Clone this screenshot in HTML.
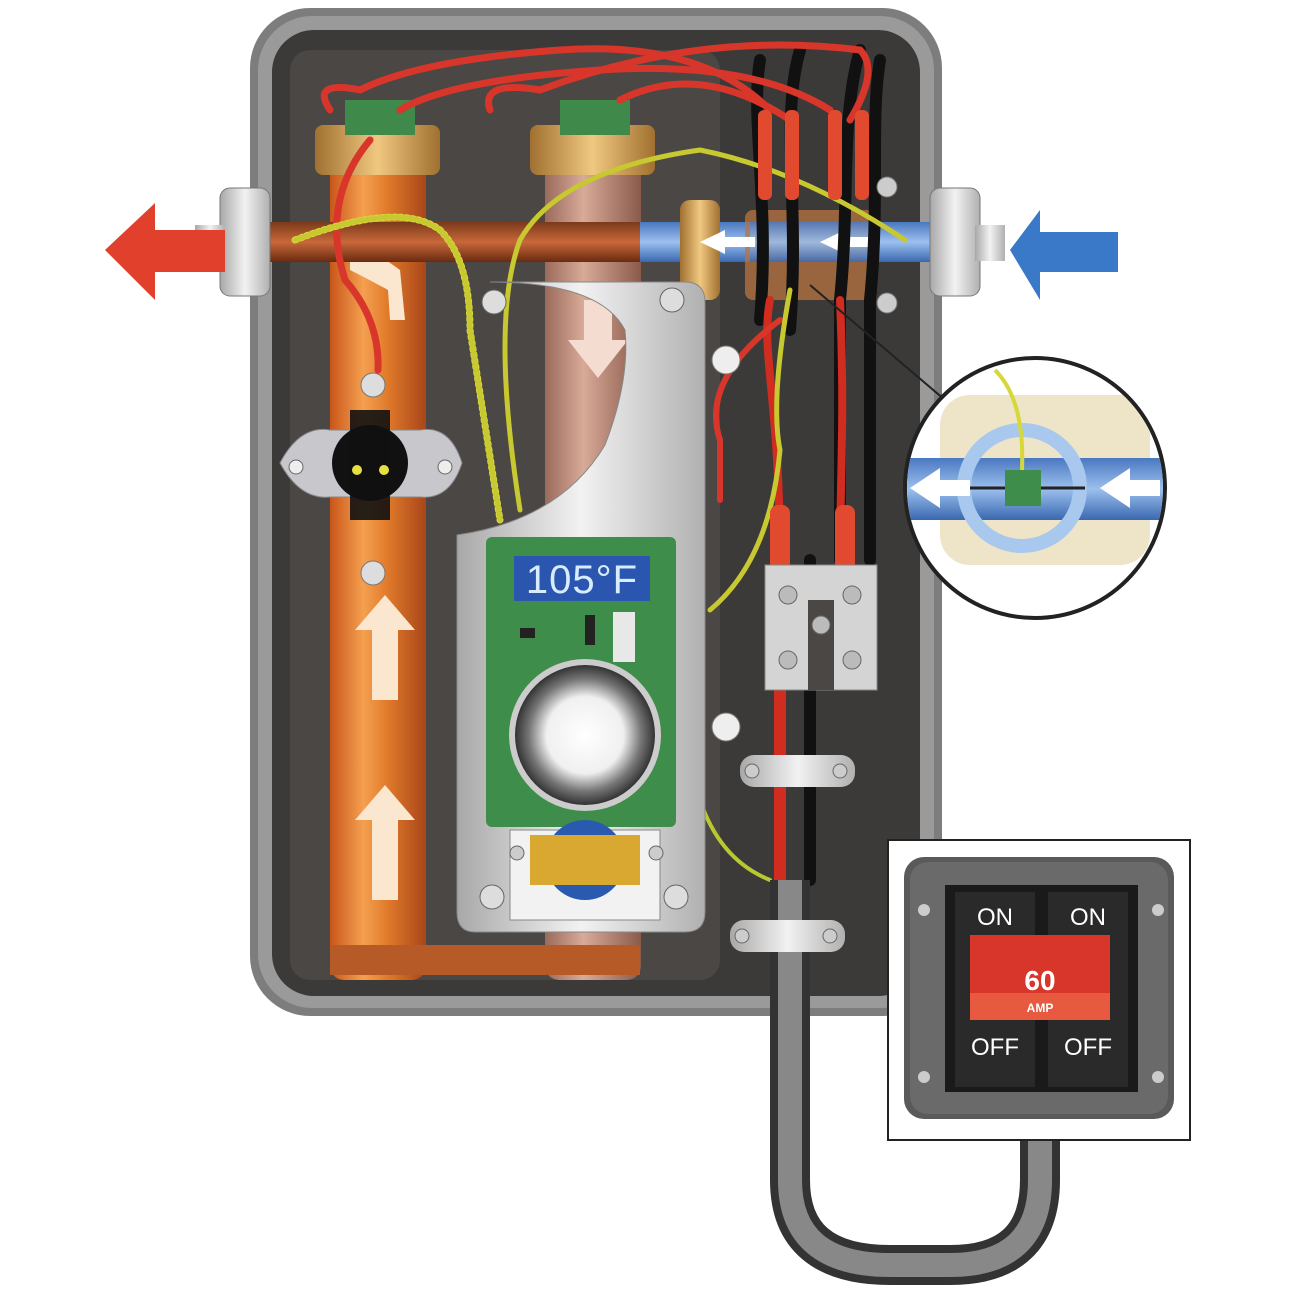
<!DOCTYPE html>
<html><head><meta charset="utf-8"><style>
html,body{margin:0;padding:0;background:#fff;width:1300px;height:1300px;overflow:hidden}
svg{display:block}
text{font-family:"Liberation Sans",sans-serif}
</style></head><body>
<svg width="1300" height="1300" viewBox="0 0 1300 1300" xmlns="http://www.w3.org/2000/svg">
<defs>
<linearGradient id="cop" x1="0" x2="1"><stop offset="0" stop-color="#c9561a"/><stop offset=".35" stop-color="#f4a050"/><stop offset=".6" stop-color="#e07a2a"/><stop offset="1" stop-color="#a8461a"/></linearGradient>
<linearGradient id="cop2" x1="0" x2="1"><stop offset="0" stop-color="#9a6a5a"/><stop offset=".4" stop-color="#d8aa98"/><stop offset="1" stop-color="#8a5a4a"/></linearGradient>
<linearGradient id="pipeh" x1="0" y1="0" x2="0" y2="1"><stop offset="0" stop-color="#7a3a1a"/><stop offset=".5" stop-color="#c8683a"/><stop offset="1" stop-color="#6a2a10"/></linearGradient>
<linearGradient id="blu" x1="0" y1="0" x2="0" y2="1"><stop offset="0" stop-color="#4a78c0"/><stop offset=".5" stop-color="#9cc0ee"/><stop offset="1" stop-color="#3a68b0"/></linearGradient>
<linearGradient id="met" x1="0" x2="1"><stop offset="0" stop-color="#a8a8a8"/><stop offset=".5" stop-color="#f2f2f2"/><stop offset="1" stop-color="#b0b0b0"/></linearGradient>
<radialGradient id="knob"><stop offset="0" stop-color="#fff"/><stop offset=".55" stop-color="#f0f0f0"/><stop offset=".8" stop-color="#777"/><stop offset="1" stop-color="#333"/></radialGradient>
<linearGradient id="brass" x1="0" x2="1"><stop offset="0" stop-color="#a07030"/><stop offset=".5" stop-color="#f0c880"/><stop offset="1" stop-color="#a07030"/></linearGradient>
</defs>

<!-- case -->
<rect x="250" y="8" width="692" height="1008" rx="60" fill="#7d7d7d"/>
<rect x="258" y="16" width="676" height="992" rx="54" fill="#9a9a9a"/>
<rect x="272" y="30" width="648" height="966" rx="42" fill="#3c3a39"/>
<rect x="290" y="50" width="430" height="930" rx="20" fill="#4a4745"/>

<!-- copper tubes -->
<rect x="330" y="140" width="96" height="840" rx="14" fill="url(#cop)"/>
<rect x="545" y="140" width="96" height="840" rx="14" fill="url(#cop2)"/>
<rect x="315" y="125" width="125" height="50" rx="8" fill="url(#brass)"/>
<rect x="530" y="125" width="125" height="50" rx="8" fill="url(#brass)"/>
<rect x="345" y="100" width="70" height="35" fill="#3f8a4a"/>
<rect x="560" y="100" width="70" height="35" fill="#3f8a4a"/>
<rect x="330" y="945" width="310" height="30" fill="#b65a28"/>
<!-- arrows in tubes -->
<polygon points="385,595 415,630 398,630 398,700 372,700 372,630 355,630" fill="#fbe6d0"/>
<polygon points="385,785 415,820 398,820 398,900 372,900 372,820 355,820" fill="#fbe6d0"/>
<polygon points="598,378 628,340 612,340 612,300 584,300 584,340 568,340" fill="#f4dcd0"/>
<path d="M350 255 Q360 240 400 270 L405 320 L390 320 L388 290 Q370 280 350 270Z" fill="#fbe6d0"/>

<!-- horizontal pipe -->
<rect x="265" y="222" width="380" height="40" fill="url(#pipeh)"/>
<rect x="640" y="222" width="295" height="40" fill="url(#blu)"/>
<rect x="680" y="200" width="40" height="100" rx="10" fill="url(#brass)"/>
<rect x="745" y="210" width="130" height="90" rx="8" fill="#b87440" opacity=".75"/>
<rect x="750" y="222" width="120" height="40" fill="url(#blu)" opacity=".85"/>
<polygon points="700,242 725,230 725,237 755,237 755,247 725,247 725,254" fill="#fff"/>
<polygon points="820,242 845,230 845,237 875,237 875,247 845,247 845,254" fill="#fff"/>
<!-- fittings -->
<rect x="220" y="188" width="50" height="108" rx="10" fill="url(#met)" stroke="#777"/>
<rect x="195" y="225" width="30" height="36" fill="url(#met)"/>
<rect x="930" y="188" width="50" height="108" rx="10" fill="url(#met)" stroke="#777"/>
<rect x="975" y="225" width="30" height="36" fill="url(#met)"/>
<!-- big arrows -->
<polygon points="105,250 155,203 155,230 225,230 225,272 155,272 155,300" fill="#e0402c"/>
<polygon points="1010,250 1040,210 1040,232 1118,232 1118,272 1040,272 1040,300" fill="#3a78c8"/>

<!-- thermostat -->
<path d="M280 463 Q300 425 330 430 L420 430 Q450 425 462 463 Q450 500 420 497 L330 497 Q300 500 280 463Z" fill="#c8c8cc" stroke="#888"/>
<circle cx="370" cy="463" r="38" fill="#111"/>
<rect x="350" y="410" width="40" height="110" fill="#111" opacity=".9"/>
<circle cx="357" cy="470" r="5" fill="#e6e040"/><circle cx="384" cy="470" r="5" fill="#e6e040"/>
<circle cx="296" cy="467" r="7" fill="#eee" stroke="#666"/><circle cx="445" cy="467" r="7" fill="#eee" stroke="#666"/>
<circle cx="373" cy="385" r="12" fill="#ddd" stroke="#777"/>
<circle cx="373" cy="573" r="12" fill="#ddd" stroke="#777"/>

<!-- wires -->
<g fill="none" stroke-linecap="round">
<path d="M760 320 C770 200 750 120 760 60" stroke="#111" stroke-width="12"/>
<path d="M790 330 C800 200 780 120 800 50" stroke="#111" stroke-width="12"/>
<path d="M840 560 L840 300 C850 200 840 120 860 50" stroke="#111" stroke-width="12"/>
<path d="M870 560 L870 300 C880 200 870 120 880 60" stroke="#111" stroke-width="12"/>
<path d="M810 880 L810 560" stroke="#111" stroke-width="12"/>
<path d="M780 880 L780 560" stroke="#d02c20" stroke-width="12"/>
<path d="M780 560 C780 400 760 350 770 300" stroke="#d02c20" stroke-width="8"/>
<path d="M840 560 C840 480 845 420 840 300" stroke="#d02c20" stroke-width="8"/>
<path d="M330 110 Q310 80 360 90 Q420 60 560 50 Q700 40 770 110" stroke="#d8362a" stroke-width="7"/>
<path d="M400 110 Q450 80 600 70 Q750 60 830 110" stroke="#d8362a" stroke-width="7"/>
<path d="M490 110 Q480 80 540 90 Q700 30 860 50 Q880 70 850 120" stroke="#d8362a" stroke-width="7"/>
<path d="M620 100 Q700 60 790 120" stroke="#d8362a" stroke-width="7"/>
<path d="M370 140 Q320 200 345 280 Q380 320 378 370" stroke="#d8362a" stroke-width="7"/>
<path d="M780 320 Q700 380 720 440 L720 500" stroke="#d8362a" stroke-width="6"/>
<path d="M295 240 Q400 200 440 230 Q470 260 470 330 L500 520" stroke="#d6d83a" stroke-width="7" stroke-dasharray="2 4"/>
<path d="M295 240 Q400 200 440 230 Q470 260 470 330 L500 520" stroke="#c8c830" stroke-width="5"/>
<path d="M905 240 Q800 170 700 150 Q560 170 520 240 Q490 320 520 510" stroke="#c8c830" stroke-width="5"/>
<path d="M790 290 Q770 400 780 450 Q770 560 710 610" stroke="#c8c830" stroke-width="5"/>
<path d="M700 800 Q720 860 770 880" stroke="#b8c830" stroke-width="4"/>
</g>
<rect x="758" y="110" width="14" height="90" rx="6" fill="#e24a30"/>
<rect x="785" y="110" width="14" height="90" rx="6" fill="#e24a30"/>
<rect x="828" y="110" width="14" height="90" rx="6" fill="#e24a30"/>
<rect x="855" y="110" width="14" height="90" rx="6" fill="#e24a30"/>
<rect x="770" y="505" width="20" height="70" rx="8" fill="#e24a30"/>
<rect x="835" y="505" width="20" height="70" rx="8" fill="#e24a30"/>

<!-- terminal block -->
<rect x="765" y="565" width="112" height="125" fill="#d4d4d4" stroke="#888"/>
<rect x="808" y="600" width="26" height="90" fill="#4a4745"/>
<circle cx="788" cy="595" r="9" fill="#bbb" stroke="#666"/><circle cx="852" cy="595" r="9" fill="#bbb" stroke="#666"/>
<circle cx="788" cy="660" r="9" fill="#bbb" stroke="#666"/><circle cx="852" cy="660" r="9" fill="#bbb" stroke="#666"/>
<circle cx="821" cy="625" r="9" fill="#bbb" stroke="#666"/>
<rect x="740" y="755" width="115" height="32" rx="14" fill="url(#met)"/>
<circle cx="726" cy="360" r="14" fill="#eee" stroke="#777"/>
<circle cx="726" cy="727" r="14" fill="#eee" stroke="#777"/>
<circle cx="887" cy="187" r="10" fill="#ccc" stroke="#777"/><circle cx="887" cy="303" r="10" fill="#ccc" stroke="#777"/>
<line x1="810" y1="285" x2="945" y2="400" stroke="#222" stroke-width="2"/>

<!-- silver plate -->
<path d="M490 282 L685 282 Q705 282 705 302 L705 912 Q705 932 685 932 L475 932 Q457 932 457 912 L457 535 Q560 520 605 445 Q630 380 625 330 Q600 282 490 282Z" fill="url(#met)" stroke="#888"/>
<circle cx="494" cy="302" r="12" fill="#ddd" stroke="#666"/>
<circle cx="672" cy="300" r="12" fill="#ddd" stroke="#666"/>
<circle cx="492" cy="897" r="12" fill="#ddd" stroke="#666"/>
<circle cx="676" cy="897" r="12" fill="#ddd" stroke="#666"/>
<rect x="486" y="537" width="190" height="290" rx="6" fill="#3f8d4a"/>
<rect x="514" y="556" width="136" height="45" fill="#2a56b0"/>
<text x="582" y="593" font-size="40" fill="#d8ecff" text-anchor="middle" letter-spacing="1">105°F</text>
<rect x="613" y="612" width="22" height="50" fill="#e8e8e8"/>
<rect x="585" y="615" width="10" height="30" fill="#222"/>
<rect x="520" y="628" width="15" height="10" fill="#222"/>
<circle cx="585" cy="735" r="76" fill="#ccc"/>
<circle cx="585" cy="735" r="70" fill="url(#knob)"/>
<rect x="510" y="830" width="150" height="90" fill="#f2f2f2" stroke="#888"/>
<circle cx="585" cy="860" r="40" fill="#2a5ab0"/>
<rect x="530" y="835" width="110" height="50" fill="#d8a830"/>
<circle cx="517" cy="853" r="7" fill="#ccc" stroke="#666"/><circle cx="656" cy="853" r="7" fill="#ccc" stroke="#666"/>

<!-- cable U -->
<path d="M790 880 L790 1180 Q790 1265 890 1265 L950 1265 Q1040 1265 1040 1180 L1040 1135" fill="none" stroke="#333" stroke-width="40"/>
<path d="M790 880 L790 1180 Q790 1265 890 1265 L950 1265 Q1040 1265 1040 1180 L1040 1135" fill="none" stroke="#888" stroke-width="24"/>
<rect x="730" y="920" width="115" height="32" rx="14" fill="url(#met)"/>
<circle cx="742" cy="936" r="7" fill="#ccc" stroke="#666"/><circle cx="830" cy="936" r="7" fill="#ccc" stroke="#666"/>
<circle cx="752" cy="771" r="7" fill="#ccc" stroke="#666"/><circle cx="840" cy="771" r="7" fill="#ccc" stroke="#666"/>

<!-- inset circle -->
<circle cx="1035" cy="488" r="130" fill="#fff" stroke="#222" stroke-width="4"/>
<clipPath id="cc"><circle cx="1035" cy="488" r="128"/></clipPath>
<g clip-path="url(#cc)">
<rect x="940" y="395" width="210" height="170" rx="30" fill="#eee4c8"/>
<rect x="900" y="458" width="270" height="62" fill="url(#blu)"/>
<circle cx="1022" cy="488" r="58" fill="none" stroke="#a8c8ee" stroke-width="14"/>
<line x1="965" y1="488" x2="1085" y2="488" stroke="#222" stroke-width="3"/>
<rect x="1005" y="470" width="36" height="36" fill="#3f8d4a"/>
<polygon points="910,488 940,468 940,480 970,480 970,496 940,496 940,508" fill="#fff"/>
<polygon points="1100,488 1130,468 1130,480 1160,480 1160,496 1130,496 1130,508" fill="#fff"/>
<path d="M995 370 Q1025 400 1022 470" stroke="#d6d83a" stroke-width="4" fill="none"/>
</g>

<!-- breaker -->
<rect x="888" y="840" width="302" height="300" fill="#fff" stroke="#222" stroke-width="2"/>
<rect x="904" y="857" width="270" height="262" rx="20" fill="#5a5a5a"/>
<rect x="910" y="862" width="258" height="252" rx="18" fill="#6a6a6a"/>
<rect x="945" y="885" width="193" height="207" fill="#1a1a1a"/>
<rect x="955" y="892" width="80" height="195" fill="#2a2a2a"/>
<rect x="1048" y="892" width="80" height="195" fill="#2a2a2a"/>
<rect x="970" y="935" width="140" height="85" fill="#d8362a"/>
<rect x="970" y="993" width="140" height="27" fill="#e85a40"/>
<text x="995" y="925" font-size="24" fill="#fff" text-anchor="middle">ON</text>
<text x="1088" y="925" font-size="24" fill="#fff" text-anchor="middle">ON</text>
<text x="1040" y="990" font-size="28" font-weight="bold" fill="#fff" text-anchor="middle">60</text>
<text x="1040" y="1012" font-size="12" font-weight="bold" fill="#fff" text-anchor="middle">AMP</text>
<text x="995" y="1055" font-size="24" fill="#fff" text-anchor="middle">OFF</text>
<text x="1088" y="1055" font-size="24" fill="#fff" text-anchor="middle">OFF</text>
<circle cx="924" cy="910" r="6" fill="#ccc"/><circle cx="1158" cy="910" r="6" fill="#ccc"/>
<circle cx="924" cy="1077" r="6" fill="#ccc"/><circle cx="1158" cy="1077" r="6" fill="#ccc"/>
</svg>
</body></html>
